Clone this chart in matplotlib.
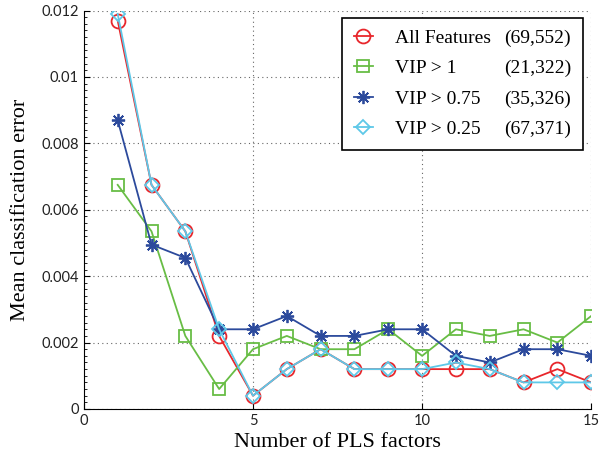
import numpy as np
import matplotlib
matplotlib.use("Agg")
import matplotlib.pyplot as plt
from matplotlib.lines import Line2D
from matplotlib.ticker import MultipleLocator

# number of PLS factors
factors = np.arange(1, 16)

# mean classification error per feature set
err_all = [0.0117, 0.00675, 0.00535, 0.0022, 0.0004, 0.0012, 0.0018, 0.0012,
           0.0012, 0.0012, 0.0012, 0.0012, 0.0008, 0.0012, 0.0008]
err_vip1 = [0.00675, 0.00535, 0.0022, 0.0006, 0.0018, 0.0022, 0.0018, 0.0018,
            0.0024, 0.0016, 0.0024, 0.0022, 0.0024, 0.002, 0.0028]
err_vip075 = [0.0087, 0.00495, 0.00455, 0.0024, 0.0024, 0.0028, 0.0022, 0.0022,
              0.0024, 0.0024, 0.0016, 0.0014, 0.0018, 0.0018, 0.0016]
err_vip025 = [0.0119, 0.00675, 0.00535, 0.0024, 0.0004, 0.0012, 0.0018, 0.0012,
              0.0012, 0.0012, 0.0014, 0.0012, 0.0008, 0.0008, 0.0008]

names = ["All Features", "VIP > 1", "VIP > 0.75", "VIP > 0.25"]
counts = ["(69,552)", "(21,322)", "(35,326)", "(67,371)"]

serif = "Liberation Serif"
sans = "Lato"

fig = plt.figure(figsize=(5.99, 4.59), dpi=100)
ax = fig.add_axes([0.140, 0.109, 0.847, 0.868])

series = [
    (err_all, "#e8262b", "o", 10),
    (err_vip1, "#68bd45", "s", 8.5),
    (err_vip075, "#2c4a9c", (8, 2, 0), 9.5),
    (err_vip025, "#5ec8e8", "D", 7),
]

handles = []
for vals, col, mk, ms in series:
    h, = ax.plot(factors, vals, color=col, marker=mk, markersize=ms,
                 markerfacecolor="none", markeredgecolor=col, markeredgewidth=1.3,
                 linewidth=1.3)
    handles.append(h)

ax.set_xlim(0, 15)
ax.set_ylim(0, 0.012)
ax.set_xticks([0, 5, 10, 15])
ax.set_yticks(np.arange(0, 0.0121, 0.002))
ax.set_yticklabels(["0", "0.002", "0.004", "0.006", "0.008", "0.01", "0.012"])
ax.yaxis.set_minor_locator(MultipleLocator(0.0002))
ax.tick_params(direction="in", labelsize=10.5, length=4, width=0.8)
ax.tick_params(axis="y", which="minor", direction="in", length=2, width=0.6)
for lab in ax.get_xticklabels() + ax.get_yticklabels():
    lab.set_fontfamily(sans)
    lab.set_color("#222222")

ax.spines["top"].set_visible(False)
ax.spines["right"].set_visible(False)
ax.grid(True, which="major", linestyle=(0, (1, 3)), color="#666666", linewidth=0.8)
ax.set_axisbelow(True)

ax.set_xlabel("Number of PLS factors", fontfamily=serif, fontsize=16, labelpad=4)
ax.set_ylabel("Mean classification error", fontfamily=serif, fontsize=16, labelpad=8)

# legend: names in first column, counts in second
blank = [Line2D([], [], linestyle="none", marker="none") for _ in counts]
leg = ax.legend(handles + blank, names + counts, ncol=2, loc="upper right",
                bbox_to_anchor=(0.984, 0.982), borderaxespad=0,
                prop={"family": serif, "size": 14},
                frameon=True, fancybox=False, edgecolor="black", framealpha=1,
                handlelength=1.0, handletextpad=1.1, columnspacing=-1.4,
                labelspacing=0.65, borderpad=0.6)
leg.get_frame().set_linewidth(1.2)

fig.savefig("out.png", dpi=100)
